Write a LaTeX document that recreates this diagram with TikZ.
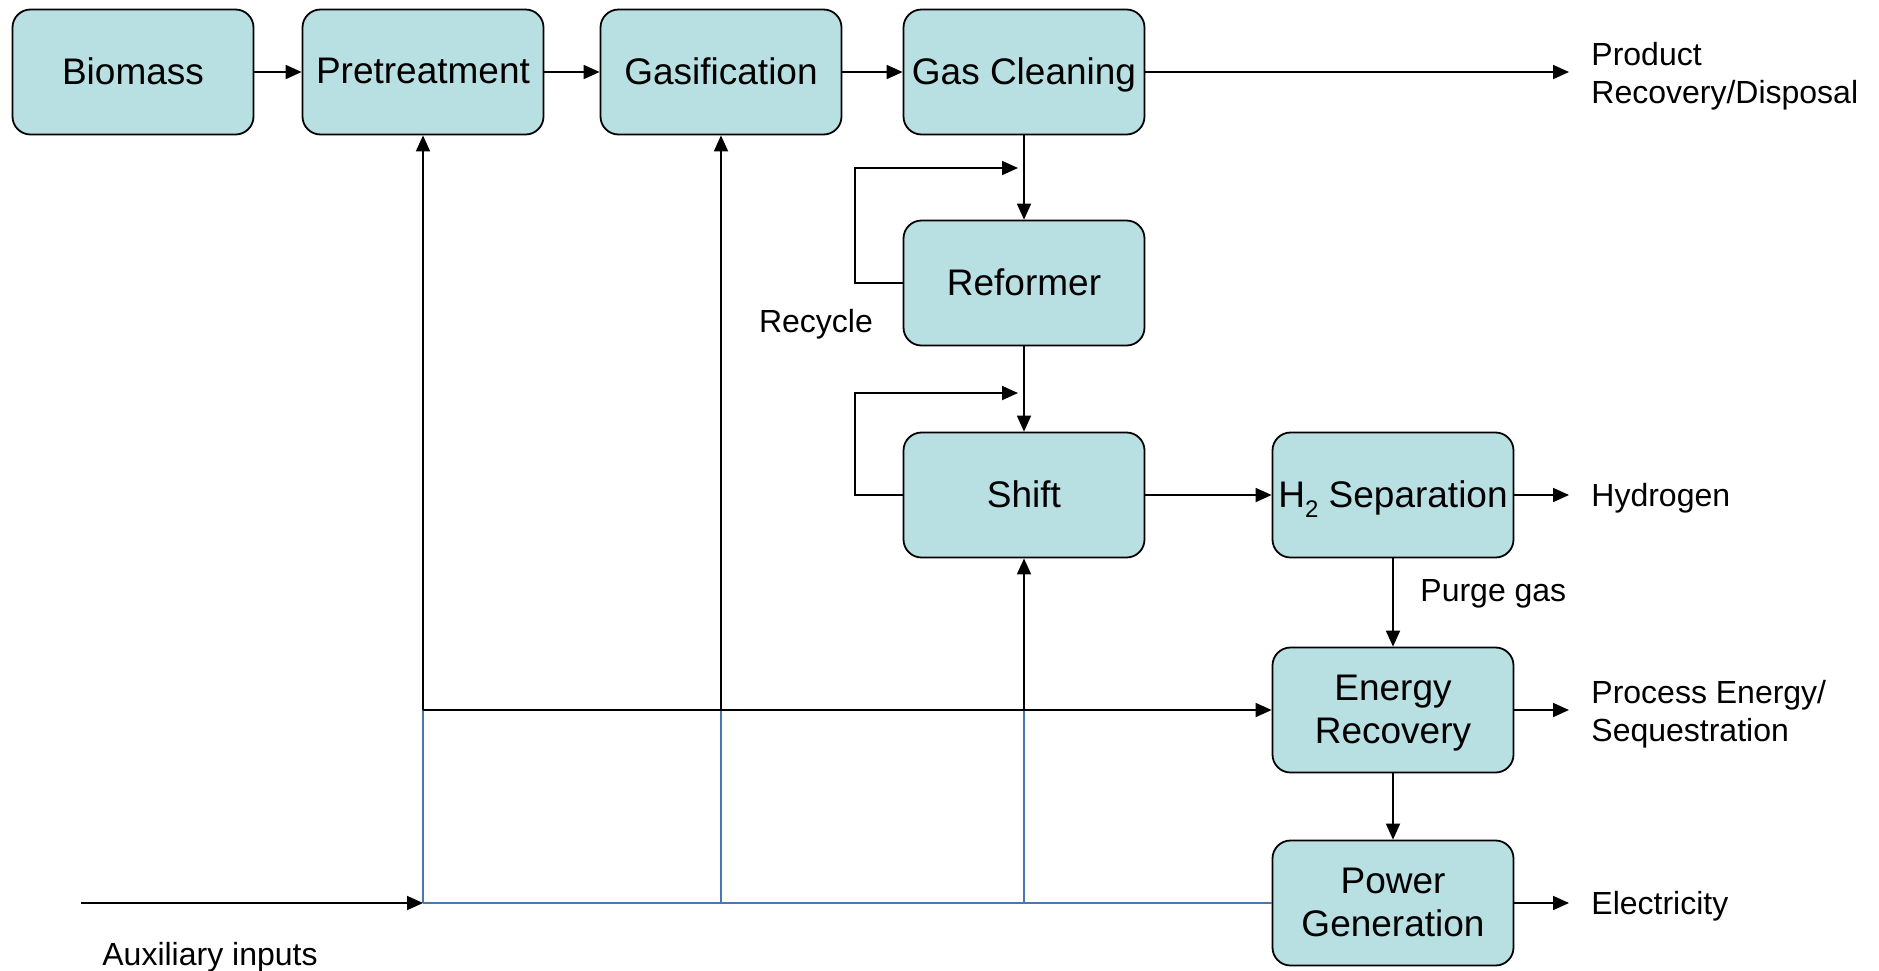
\documentclass[tikz,border=0pt]{standalone}
\usepackage{fontspec}
\setmainfont{Liberation Sans}
\usetikzlibrary{arrows.meta}

\begin{document}
\begin{tikzpicture}[x=0.5pt, y=-0.5pt,
  unit/.style={draw, fill=cBox, rounded corners=9pt, line width=0.9pt,
    minimum width=120.5pt, minimum height=62.5pt, inner sep=1pt,
    text depth=0.08em, align=center, font=\fontsize{18.5}{21.5}\selectfont},
  lbl/.style={inner sep=0pt, align=left, font=\fontsize{16}{19}\selectfont},
  flow/.style={-{Triangle[length=8pt,width=7pt]}, line width=0.9pt},
  feed/.style={draw=cFeed, line width=0.8pt}]

\definecolor{cBox}{RGB}{184,223,226}
\definecolor{cFeed}{RGB}{74,118,178}

\useasboundingbox (0,0) rectangle (1879,970);

%% ---------- main train ----------
\node[unit] (biomass)  at (133,72)   {Biomass};
\node[unit] (pretreat) at (423,72)   {Pretreatment};
\node[unit] (gasif)    at (721,72)   {Gasification};
\node[unit] (cleaning) at (1024,72)  {Gas Cleaning};
\node[unit] (reformer) at (1024,283) {Reformer};
\node[unit] (shift)    at (1024,495) {Shift};
\node[unit] (hsep)     at (1393,495)
  {H\raisebox{-0.5ex}{\fontsize{12}{12}\selectfont 2} Separation};
\node[unit] (energy)   at (1393,710) {Energy\\Recovery};
\node[unit] (power)    at (1393,903) {Power\\Generation};

%% ---------- outputs ----------
\node[lbl, anchor=west] (product)  at (1591,76)  {Product\\Recovery/Disposal};
\node[lbl, anchor=west] (hydrogen) at (1591,498) {Hydrogen};
\node[lbl, anchor=west] (process)  at (1591,714) {Process Energy/\\Sequestration};
\node[lbl, anchor=west] (elec)     at (1591,906) {Electricity};

\node[lbl] (recycle) at (816,324) {Recycle};
\node[lbl, anchor=west] (purge) at (1420,594) {Purge gas};
\node[lbl] (auxlbl) at (210,957) {Auxiliary inputs};

\coordinate (rin) at (1024,168);
\coordinate (sin) at (1024,393);
\coordinate (auxin) at (81,903);

\draw[flow] (biomass) -- (pretreat);
\draw[flow] (pretreat) -- (gasif);
\draw[flow] (gasif) -- (cleaning);
\draw[flow] (cleaning.east) -- ([xshift=-11pt]cleaning.east -| product.west);
\draw[flow] (cleaning) -- (reformer);
\draw[flow] (reformer) -- (shift);
\draw[flow] (shift) -- (hsep);
\draw[flow] (hsep.east) -- ([xshift=-11pt]hsep.east -| hydrogen.west);
\draw[flow] (hsep) -- (energy);
\draw[flow] (energy.east) -- ([xshift=-11pt]energy.east -| process.west);
\draw[flow] (energy) -- (power);
\draw[flow] (power.east) -- ([xshift=-11pt]power.east -| elec.west);

%% ---------- recycle loops ----------
\draw[flow] (reformer.west) -- ++(-48,0) |- ([xshift=-3pt]rin);
\draw[flow] (shift.west) -- ++(-48,0) |- ([xshift=-3pt]sin);

%% ---------- auxiliary inputs ----------
\draw[feed] (power.west -| pretreat.south) -- (power.west);
\foreach \u in {pretreat, gasif, shift}
  \draw[feed] (power.west -| \u.south) -- (energy.west -| \u.south);
\draw[flow] (energy.west -| pretreat.south) -- (energy.west);
\foreach \u in {pretreat, gasif, shift}
  \draw[flow] (energy.west -| \u.south) -- (\u.south);
\draw[flow] (auxin) -- (power.west -| pretreat.south);

\end{tikzpicture}
\end{document}
